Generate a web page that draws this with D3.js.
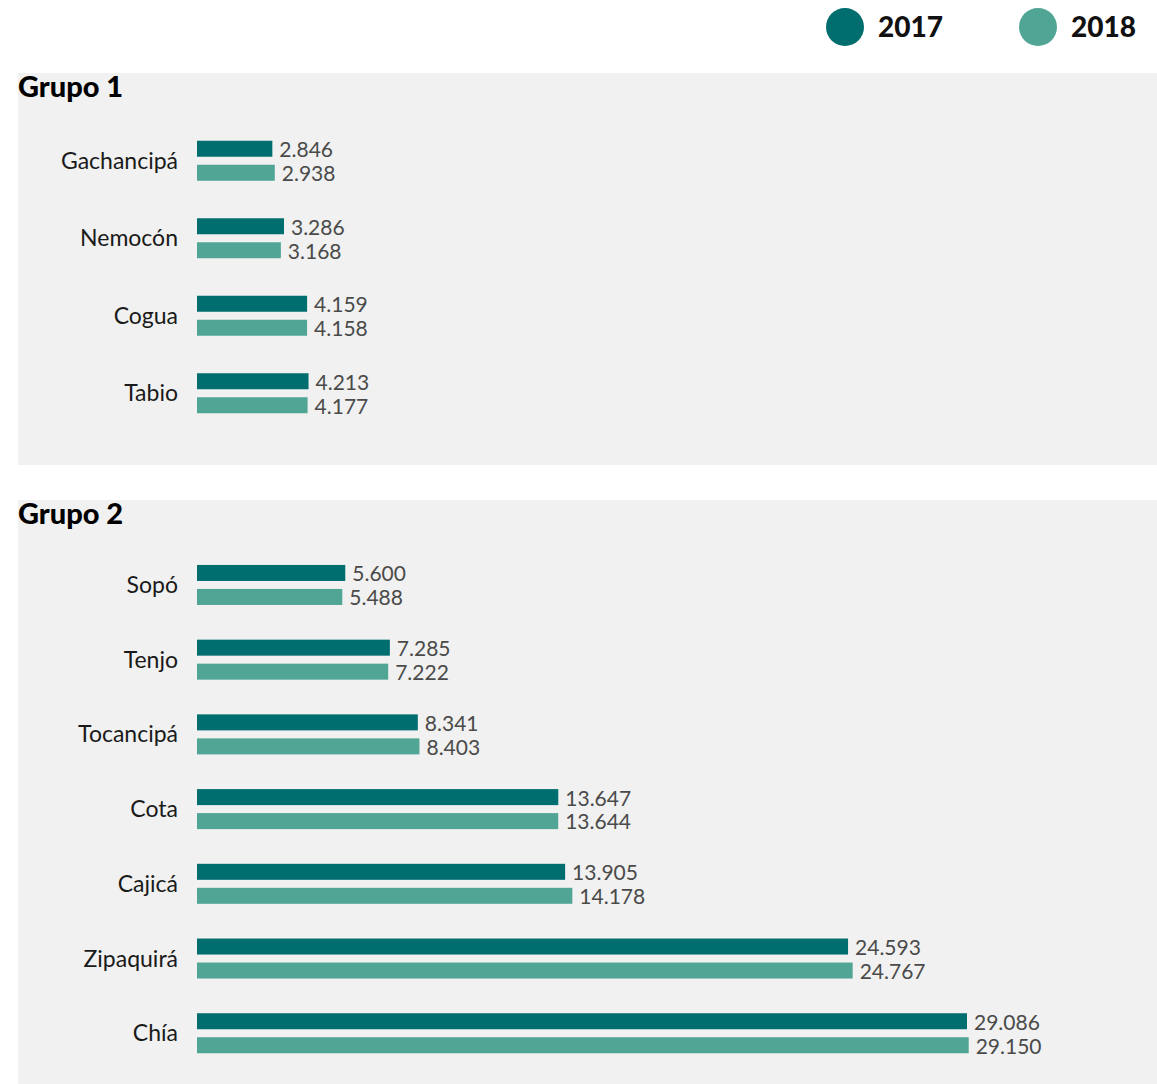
<!DOCTYPE html>
<html><head><meta charset="utf-8">
<script src="https://cdn.jsdelivr.net/npm/d3@7"></script>
<style>body{margin:0;background:#fff}svg{display:block}</style>
</head><body><svg id="c" width="1157" height="1084"></svg>
<script>
const series = ["2017", "2018"];
const group1Categories = ["Gachancipá", "Nemocón", "Cogua", "Tabio"];
const group1Values2017 = [2846, 3286, 4159, 4213];
const group1Values2018 = [2938, 3168, 4158, 4177];
const group2Categories = ["Sopó", "Tenjo", "Tocancipá", "Cota", "Cajicá", "Zipaquirá", "Chía"];
const group2Values2017 = [5600, 7285, 8341, 13647, 13905, 24593, 29086];
const group2Values2018 = [5488, 7222, 8403, 13644, 14178, 24767, 29150];
const groupTitles = ["Grupo 1", "Grupo 2"];

const colors = {"2017": "#006d6f", "2018": "#51a595"};
const FONT = "Lato, 'Source Sans Pro', sans-serif";
const locale = d3.formatLocale({decimal: ",", thousands: ".", grouping: [3], currency: ["$", ""]});
const fmt = locale.format(",d");

const svg = d3.select("#c");

const x = d3.scaleLinear().domain([0, 29086]).range([197, 967]);

const groups = [
  {title: groupTitles[0], cats: group1Categories, v: [group1Values2017, group1Values2018],
   panel: [73, 465], titleY: 97, band: [122, 432]},
  {title: groupTitles[1], cats: group2Categories, v: [group2Values2017, group2Values2018],
   panel: [500, 1084], titleY: 524, band: [547.6, 1070.6]}
];

const inner = d3.scaleBand().domain(series).range([0, 40]).paddingInner(1/3);

groups.forEach(g => {
  svg.append("rect").attr("x", 18).attr("y", g.panel[0]).attr("width", 1139)
    .attr("height", g.panel[1] - g.panel[0]).attr("fill", "#f0f1f0");
  svg.append("text").attr("x", 18).attr("y", g.titleY).text(g.title)
    .attr("font-family", FONT).attr("font-weight", 900).attr("font-size", 29).attr("fill", "#000");
  const y = d3.scaleBand().domain(g.cats).range(g.band);
  const rows = g.cats.map((c, i) => ({c, vals: series.map((s, k) => ({s, v: g.v[k][i]}))}));
  const row = svg.append("g").selectAll("g").data(rows).join("g")
    .attr("transform", d => `translate(0,${y(d.c) + y.bandwidth() / 2 - 20})`);
  row.append("text").attr("x", 178).attr("y", 20).attr("dy", "0.35em")
    .attr("text-anchor", "end").attr("font-family", FONT).attr("font-size", 23)
    .attr("fill", "#1a1a1a").text(d => d.c);
  const b = row.selectAll("g.b").data(d => d.vals).join("g").attr("class", "b");
  b.append("rect").attr("x", x(0)).attr("y", d => inner(d.s))
    .attr("width", d => x(d.v) - x(0)).attr("height", inner.bandwidth())
    .attr("fill", d => colors[d.s]);
  b.append("text").attr("x", d => x(d.v) + 7).attr("y", d => inner(d.s) + inner.bandwidth() / 2)
    .attr("dy", "0.4em").attr("font-family", FONT).attr("font-size", 21)
    .attr("fill", "#4a4a4a").text(d => fmt(d.v));
});

// legend
const legendX = [845, 1038];
const lg = svg.append("g").selectAll("g").data(series).join("g")
  .attr("transform", (d, i) => `translate(${legendX[i]},27)`);
lg.append("circle").attr("r", 19).attr("fill", d => colors[d]);
lg.append("text").attr("x", 33).attr("dy", "0.36em").text(d => d)
  .attr("font-family", FONT).attr("font-weight", 900).attr("font-size", 28).attr("fill", "#111");
</script></body></html>
